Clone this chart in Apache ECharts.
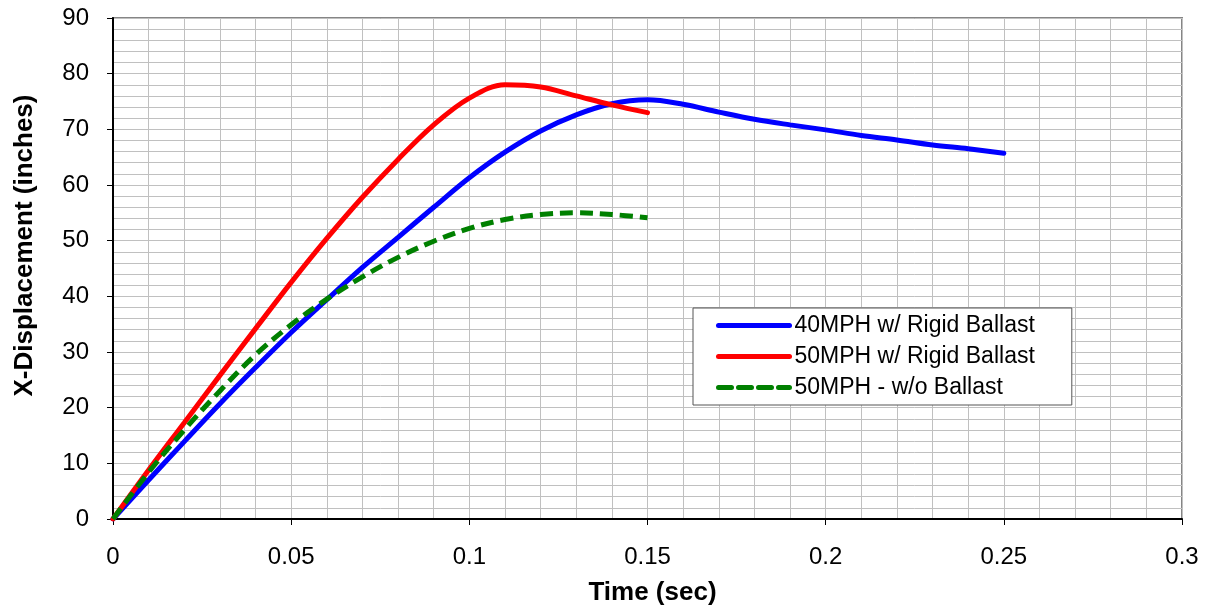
<!DOCTYPE html>
<html>
<head>
<meta charset="utf-8">
<script src="https://cdn.jsdelivr.net/npm/echarts@6/dist/echarts.min.js"></script>
<style>html,body{margin:0;padding:0;background:#fff}#c{width:1206px;height:611px}</style>
</head>
<body>
<div id="c"></div>
<script>
const times40 = [0,0.01,0.02,0.03,0.04,0.05,0.06,0.07,0.08,0.09,0.10,0.11,0.12,0.13,0.14,0.15,0.16,0.17,0.18,0.19,0.20,0.21,0.22,0.23,0.24,0.25];
const rigid40 = [0,7.0,13.9,20.7,27.2,33.5,39.4,45.2,50.6,56.0,61.3,65.9,69.7,72.6,74.6,75.3,74.5,73.1,71.8,70.8,69.9,68.9,68.1,67.2,66.5,65.7];
const times50 = [0,0.01,0.02,0.03,0.04,0.05,0.06,0.07,0.08,0.09,0.10,0.11,0.12,0.13,0.14,0.15];
const rigid50 = [0,8.8,17.3,25.8,34.2,42.5,50.4,57.8,64.6,70.8,75.6,78.0,77.6,76.0,74.4,73.0];
const noBallast50 = [0,8.4,16.0,23.0,29.5,34.9,39.5,43.5,47.0,49.9,52.2,53.8,54.7,55.0,54.7,54.1];
const seriesNames = ['40MPH w/ Rigid Ballast','50MPH w/ Rigid Ballast','50MPH - w/o Ballast'];
const xTitle = 'Time (sec)';
const yTitle = 'X-Displacement (inches)';

const zip = (xs, ys) => xs.map((x, i) => [x, ys[i]]);
const FONT = '"Liberation Sans", Arial, sans-serif';

const chart = echarts.init(document.getElementById('c'), null, {renderer: 'canvas'});
chart.setOption({
  animation: false,
  backgroundColor: '#fff',
  grid: {left: 113, right: 24, top: 18, bottom: 92, show: true, borderColor: '#858585', borderWidth: 2, backgroundColor: 'transparent'},
  xAxis: {
    type: 'value', min: 0, max: 0.3, interval: 0.05,
    name: xTitle, nameLocation: 'middle', nameGap: 61,
    nameTextStyle: {fontFamily: FONT, fontSize: 26, fontWeight: 'bold', color: '#000', padding: [0, 0, 0, 10]},
    axisLine: {show: true, onZero: false, lineStyle: {color: '#000', width: 2}},
    axisTick: {show: true, inside: false, length: 6, lineStyle: {color: '#000', width: 1}},
    axisLabel: {fontFamily: FONT, fontSize: 24, color: '#000', margin: 26,
      formatter: v => String(+v.toFixed(2))},
    splitLine: {show: true, lineStyle: {color: '#c0c0c0', width: 1}},
    minorTick: {show: false, splitNumber: 5},
    minorSplitLine: {show: true, lineStyle: {color: '#c0c0c0', width: 1}}
  },
  yAxis: {
    type: 'value', min: 0, max: 90, interval: 10,
    name: yTitle, nameLocation: 'middle', nameGap: 75, nameRotate: 90,
    nameTextStyle: {fontFamily: FONT, fontSize: 26, fontWeight: 'bold', color: '#000', padding: [0, 0, 0, 46]},
    axisLine: {show: true, onZero: false, lineStyle: {color: '#000', width: 2}},
    axisTick: {show: true, inside: false, length: 6, lineStyle: {color: '#000', width: 1}},
    axisLabel: {fontFamily: FONT, fontSize: 24, color: '#000', margin: 24},
    splitLine: {show: true, lineStyle: {color: '#c0c0c0', width: 1}},
    minorTick: {show: false, splitNumber: 5},
    minorSplitLine: {show: true, lineStyle: {color: '#c0c0c0', width: 1}}
  },
  legend: {
    orient: 'vertical', left: 693, top: 308,
    backgroundColor: '#fff', borderColor: '#555', borderWidth: 1,
    padding: [6, 37, 6, 23], itemGap: 8, itemWidth: 71, itemHeight: 22,
    textStyle: {fontFamily: FONT, fontSize: 23, color: '#000'},
    itemStyle: {opacity: 0},
    lineStyle: {width: 5, cap: 'round'},
    data: seriesNames
  },
  series: [
    {name: seriesNames[0], type: 'line', data: zip(times40, rigid40), smooth: 0.35, symbol: 'none',
     color: '#0000ff', lineStyle: {color: '#0000ff', width: 5, cap: 'round'}, z: 3},
    {name: seriesNames[1], type: 'line', data: zip(times50, rigid50), smooth: 0.35, symbol: 'none',
     color: '#ff0000', lineStyle: {color: '#ff0000', width: 5, cap: 'round'}, z: 4},
    {name: seriesNames[2], type: 'line', data: zip(times50, noBallast50), smooth: 0.35, symbol: 'none',
     color: '#008000', lineStyle: {color: '#008000', width: 5, type: [13, 7], cap: 'butt'}, z: 5}
  ]
});
</script>
</body>
</html>
